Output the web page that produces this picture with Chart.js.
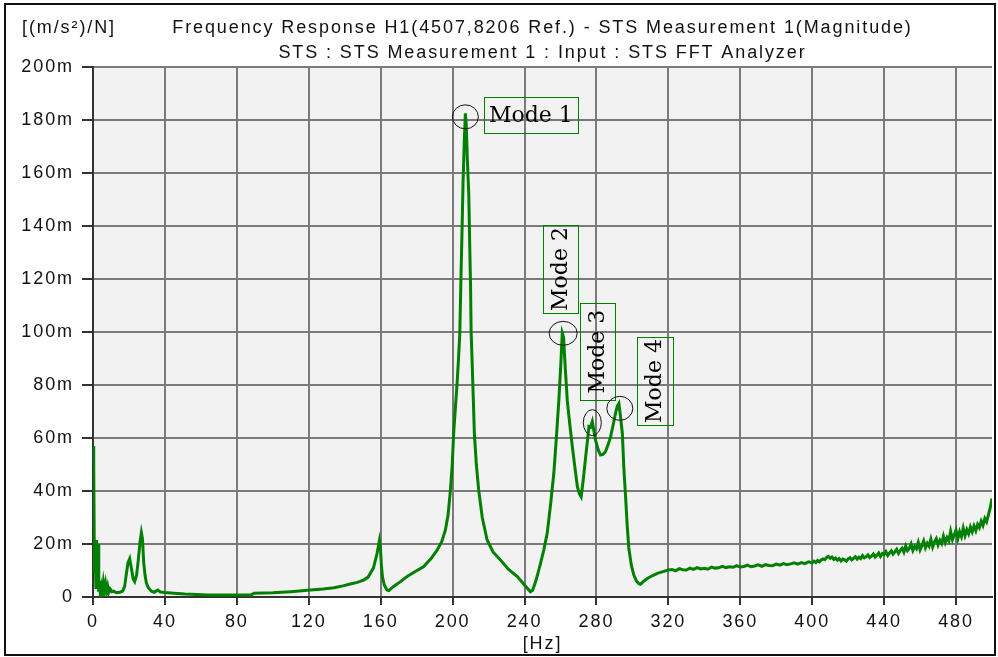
<!DOCTYPE html>
<html>
<head>
<meta charset="utf-8">
<title>Frequency Response</title>
<script src="https://cdn.jsdelivr.net/npm/chart.js@4.4.1/dist/chart.umd.min.js"></script>
<style>
    body{ margin:0; background:#fff; }
    canvas{ display:block; }
</style>
</head>
<body>
<canvas id="myChart" width="998" height="657"></canvas>
<script>

// frequency [Hz] and magnitude [m(m/s^2)/N]
const freqHz = [
    0, 0.4, 0.8, 1.2, 1.6, 2.0, 2.4, 2.8, 3.2, 3.6,
    4.0, 4.6, 5.2, 5.8, 6.4, 7.0, 7.6, 8.2, 8.8, 9.5,
    10.5, 11.5, 13, 15, 16.5, 17.6, 18.6, 19.5, 20.4, 21.3,
    22.3, 23.2, 24.2, 25.2, 26.2, 26.9, 27.5, 28.2, 29.0, 29.7,
    30.8, 32.5, 34, 36, 37.5, 40, 45, 51, 58, 64,
    75, 88, 89.5, 100, 110, 121, 128, 134, 139, 143,
    147, 150.5, 153, 156, 158, 159.3, 159.8, 160.4, 161, 162,
    163.5, 164.5, 167, 171, 174.7, 179, 183.8, 188, 191.4, 194,
    196, 197.5, 198.8, 199.8, 200.6, 201.5, 202.5, 203.3, 204, 204.7,
    205.3, 205.8, 206.5, 207.1, 207.6, 208.2, 209, 209.6, 210, 210.3,
    210.8, 211.5, 212.1, 213.2, 214.5, 216.5, 219.2, 222.5, 226.6, 231,
    236, 240, 243.3, 244.5, 246.5, 248.9, 250.8, 252.6, 254.5, 256.3,
    257.8, 259.1, 260.2, 261, 261.7, 262.7, 263.8, 265.2, 266.6, 268,
    269.4, 270.5, 271.5, 272.8, 274, 275, 275.8, 276.7, 277.7, 278.5,
    279.5, 281, 282.3, 283.6, 285, 286.5, 287.9, 289.3, 290.6, 291.6,
    292.5, 293.4, 294.4, 295.3, 296.2, 297.1, 298, 299.4, 300.8, 302.3,
    303.6, 304.5, 306, 308.3, 311, 313.9, 317, 320,
    322, 324, 326, 328, 330, 332, 334, 336, 338, 340,
    342, 344, 346, 348, 350, 352, 354, 356, 358, 360,
    362, 364, 366, 368, 370, 372, 374, 376, 378, 380,
    382, 384, 386, 388, 390, 392, 394, 396, 398, 400,
    401, 402, 403, 404, 405, 406, 407, 408, 409, 410,
    411, 412, 413, 414, 415, 416, 417, 418, 419, 420,
    421, 422, 423, 424, 425, 426, 427, 428, 429, 430,
    431, 432, 433, 434, 435, 436, 437, 438, 439, 440,
    441, 442, 443, 444, 445, 446, 447, 448, 449, 450,
    451, 452, 453, 454, 455, 456, 457, 458, 459, 460,
    461, 462, 463, 464, 465, 466, 467, 468, 469, 470,
    471, 472, 473, 474, 475, 476, 477, 478, 479, 480,
    481, 482, 483, 484, 485, 486, 487, 488, 489, 490,
    491, 492, 493, 494, 495, 496, 497, 498, 499, 500
];
const magMilli = [
    57, 50, 9, 21, 3, 21.5, 8, 20, 2, 6,
    1.5, 4, 1.5, 5.5, 2.5, 5, 2, 4, 1.8, 3,
    2, 2.2, 1.6, 1.8, 2.2, 4, 9, 13, 14.5, 11,
    7, 5.8, 8, 14, 21, 24.3, 22, 13, 8, 5.3,
    3.5, 2.2, 1.8, 2.6, 1.9, 1.7, 1.4, 1.1, 0.9, 0.75,
    0.75, 0.8, 1.4, 1.6, 2.0, 2.6, 3.0, 3.5, 4.2, 4.9,
    5.5, 6.4, 7.5, 11, 16.5, 21.3, 19, 12, 7.5, 4.5,
    2.6, 2.4, 3.9, 5.8, 7.7, 9.5, 11.4, 14.5, 17.7, 21,
    25.3, 31, 40.4, 50, 61.8, 71, 80.6, 90, 99.5, 122,
    140, 156, 172, 182.5, 178, 165, 152, 130, 117, 100,
    90, 75, 61.8, 50, 40.4, 30, 21.5, 17, 14, 10.5,
    7.7, 4.5, 2, 2.5, 6.5, 12.7, 18, 24, 35, 46.7,
    61, 74.3, 88, 99.5, 98, 86, 74, 65, 56.7, 49,
    41.6, 39, 37.8, 45, 52.9, 59, 64.3, 64, 66.2, 63,
    59.2, 55.5, 53.6, 53.8, 54.8, 57.5, 60.5, 65, 69.3, 72,
    73, 68, 61.8, 48, 38, 27, 18.5, 12, 8.3, 6,
    5, 4.8, 5.8, 7, 8.0, 8.9, 9.6, 10.2,
    10.4, 9.9, 10.7, 10.3, 10.2, 10.9, 10.4, 11.1, 10.6, 10.8,
    10.5, 11.3, 10.9, 11.0, 11.6, 11.1, 11.4, 11.2, 11.8, 11.3,
    11.5, 12.0, 11.4, 11.7, 12.1, 11.6, 12.2, 11.9, 11.8, 12.4,
    12.0, 12.6, 12.2, 12.5, 12.9, 12.4, 13.0, 12.6, 13.3, 12.9,
    13.5, 13.0, 13.8, 13.3, 14.0, 14.4, 14.1, 14.9, 15.3, 14.6,
    15.1, 14.2, 14.7, 13.9, 14.5, 13.6, 14.3, 14.0, 13.5, 14.4,
    14.8, 14.0, 14.6, 15.2, 14.3, 15.0, 14.5, 15.6, 14.8, 15.2,
    15.9, 14.9, 15.4, 16.2, 15.1, 15.8, 16.6, 15.3, 16.4, 16.0,
    17.1, 15.7, 16.6, 17.4, 16.2, 17.0, 18.0, 16.5, 17.6, 18.4,
    16.9, 19.2, 17.5, 18.3, 20.0, 17.6, 19.1, 18.2, 20.6, 17.8,
    19.4, 21.2, 18.6, 20.3, 19.2, 21.8, 18.9, 20.8, 22.0, 19.6,
    21.4, 20.2, 23.0, 20.6, 22.4, 21.2, 24.8, 21.6, 23.4, 25.2,
    22.0, 24.6, 22.8, 26.0, 23.2, 25.4, 23.8, 26.4, 24.6, 26.8,
    25.0, 27.4, 26.2, 28.6, 27.0, 29.6, 28.4, 31.0, 33.6, 37.2
];

const modeNames = ['Mode 1', 'Mode 2', 'Mode 3', 'Mode 4'];
const modeHz = [207.1, 261.5, 277.7, 293.0];
const modeMag = [181.2, 99.5, 65.8, 71.2];

const titleLine1 = 'Frequency Response H1(4507,8206 Ref.) - STS Measurement 1(Magnitude)';
const titleLine2 = 'STS : STS Measurement 1 : Input : STS FFT Analyzer';
const unitLabel = '[(m/s\u00b2)/N]';
const xLabel = '[Hz]';

// where the mode labels sit relative to their circle (px)
const modeBoxes = [
    {dx: 65.5, dy: -1.4, w: 94, h: 36, vertical: false, rx: 13, ry: 12},
    {dx: -2.7, dy: -64.3, w: 35, h: 88, vertical: true, rx: 14, ry: 12},
    {dx: 5, dy: -71, w: 35, h: 97, vertical: true, rx: 9, ry: 13},
    {dx: 34.7, dy: -27.3, w: 36, h: 88, vertical: true, rx: 13, ry: 12}
];

const SPACING = '1.9px';
const SANS = "'Liberation Sans', Arial, sans-serif";

const points = freqHz.map((f, i) => ({x: f, y: magMilli[i]}));

const decor = {
    id: 'decor',
    beforeUpdate(chart){
        chart.ctx.letterSpacing = SPACING;
    },
    beforeDraw(chart){
        const {ctx, chartArea: a, width, height} = chart;
        ctx.save();
        ctx.fillStyle = '#ffffff';
        ctx.fillRect(0, 0, width, height);
        ctx.fillStyle = '#f2f2f2';
        ctx.fillRect(a.left, a.top, a.right - a.left, a.bottom - a.top);
        ctx.restore();
        ctx.letterSpacing = SPACING;
    },
    afterDatasetsDraw(chart){
        const ctx = chart.ctx;
        const xs = chart.scales.x, ys = chart.scales.y;
        ctx.save();
        ctx.letterSpacing = '0px';
        for(let i=0; i<modeNames.length; i++){
            const b = modeBoxes[i];
            const cx = xs.getPixelForValue(modeHz[i]);
            const cy = ys.getPixelForValue(modeMag[i]);
            ctx.strokeStyle = '#111';
            ctx.lineWidth = 1;
            ctx.beginPath();
            ctx.ellipse(cx, cy, b.rx, b.ry, 0, 0, Math.PI*2);
            ctx.stroke();

            const bx = cx + b.dx;
            const by = cy + b.dy;
            ctx.strokeStyle = '#008000';
            ctx.strokeRect(Math.round(bx - b.w/2) + 0.5, Math.round(by - b.h/2) + 0.5, b.w, b.h);

            ctx.fillStyle = '#000';
            ctx.font = "22px 'DejaVu Serif', serif";
            ctx.textAlign = 'center';
            ctx.textBaseline = 'middle';
            ctx.save();
            ctx.translate(bx, by);
            if(b.vertical) ctx.rotate(-Math.PI/2);
            ctx.fillText(modeNames[i], 0, 1);
            ctx.restore();
        }
        ctx.restore();
    },
    afterDraw(chart){
        const ctx = chart.ctx;
        const a = chart.chartArea;
        ctx.save();
        ctx.letterSpacing = SPACING;
        ctx.fillStyle = '#111';
        ctx.font = '18px ' + SANS;
        ctx.textBaseline = 'middle';
        ctx.textAlign = 'center';
        const mid = (a.left + a.right) / 2;
        ctx.fillText(titleLine1, mid, 28);
        ctx.fillText(titleLine2, mid, 53);
        ctx.textAlign = 'left';
        ctx.fillText(unitLabel, 22, 28);

        ctx.letterSpacing = '0px';
        ctx.strokeStyle = '#111';
        ctx.lineWidth = 2;
        ctx.strokeRect(5, 4, 990, 651);
        ctx.restore();
    }
};

const ctx = document.getElementById('myChart');

const chart = new Chart(ctx, {
    type: 'line',
    data: {
        datasets: [{
            data: points,
            borderColor: '#008000',
            borderWidth: 3,
            pointRadius: 0,
            tension: 0,
            fill: false
        }]
    },
    options: {
        responsive: false,
        animation: false,
        layout: { padding: {left: 0, right: 6, top: 67, bottom: 0} },
        plugins: {
            legend: { display: false },
            title: { display: false },
            tooltip: { enabled: false }
        },
        scales: {
            x: {
                type: 'linear',
                min: 0,
                max: 500,
                afterFit(scale){ scale.height = 60; },
                ticks: {
                    stepSize: 40,
                    includeBounds: false,
                    maxRotation: 0,
                    padding: 6,
                    color: '#111',
                    font: { family: SANS, size: 18 }
                },
                grid: { color: '#7a7a7a', lineWidth: 2, tickLength: 8, tickColor: '#333' },
                border: { color: '#333', width: 2 },
                title: {
                    display: true,
                    text: xLabel,
                    color: '#111',
                    font: { family: SANS, size: 18 },
                    padding: {top: 0, bottom: 2}
                }
            },
            y: {
                min: 0,
                max: 200,
                afterFit(scale){ scale.width = 93; },
                ticks: {
                    stepSize: 20,
                    padding: 8,
                    color: '#111',
                    font: { family: SANS, size: 18 },
                    callback: v => v === 0 ? '0' : v + 'm'
                },
                grid: { color: '#7a7a7a', lineWidth: 2, tickLength: 11, tickColor: '#333' },
                border: { color: '#333', width: 2 }
            }
        }
    },
    plugins: [decor]
});

</script>
</body>
</html>
